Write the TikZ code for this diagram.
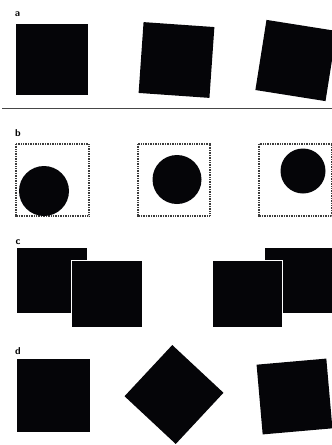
\documentclass[tikz,border=0pt]{standalone}
\usepackage{xcolor}
\usepackage{tikz}
\usetikzlibrary{positioning}
\definecolor{inkblack}{RGB}{5, 5, 8}
\definecolor{rulegray}{RGB}{70, 70, 70}
\definecolor{dotgray}{RGB}{60, 60, 60}

\tikzset{
    blob/.style={fill=inkblack, inner sep=0pt, minimum width=#1, minimum height=#1},
    blob/.default=71pt,
    panellabel/.style={font=\sffamily\bfseries, inner sep=0pt},
    framebox/.style={draw=dotgray, dash pattern=on 1pt off 0.7pt, line width=1.2pt}
}

\begin{document}
\begin{tikzpicture}[x=1pt, y=-1pt]
    \useasboundingbox (0,0) rectangle (332,445);
    \clip (0,0) rectangle (332,445);

    % Panel labels
    \node[panellabel] (la) at (17.5,14) {a};
    \node[panellabel] (lb) at (18,133) {b};
    \node[panellabel] (lc) at (18,242) {c};
    \node[panellabel] (ld) at (18,351) {d};

    % Row a: upright and tilted squares
    \node[blob=71pt, minimum width=72pt] (a1) at (52,59.5) {};
    \node[blob=71pt, rotate=-4] (a2) at (176.5,60) {};
    \node[blob=71pt, rotate=-9] (a3) at (296,60.5) {};

    % Separator
    \draw[rulegray, line width=0.9pt] (2,108) -- (332,108);

    % Row b: discs inside dotted frames
    \draw[framebox] (16,144) rectangle (89,216);
    \draw[framebox] (138,144) rectangle (210,216);
    \draw[framebox] (259,144) rectangle (331.5,216);
    \fill[inkblack] (44,191) circle (25);
    \fill[inkblack] (177,179.5) circle (24.5);
    \fill[inkblack] (303,171) circle (22.5);

    % Row c: overlapping pairs
    \node[blob, minimum width=70pt, minimum height=65pt] (c1) at (52,280.5) {};
    \node[blob, minimum width=71pt, minimum height=67pt, draw=white, line width=1pt] (c2) at (106.5,293.5) {};
    \node[blob, minimum width=70pt, minimum height=65pt] (c4) at (300,280.5) {};
    \node[blob, minimum width=70pt, minimum height=67pt, draw=white, line width=1pt] (c3) at (247,293.5) {};

    % Row d: square, diamond, tilted square
    \node[blob=73pt] (d1) at (53.5,395.5) {};
    \node[blob=70pt, rotate=47] (d2) at (174,394.5) {};
    \node[blob=70pt, rotate=5] (d3) at (294.5,396.5) {};

\end{tikzpicture}
\end{document}
